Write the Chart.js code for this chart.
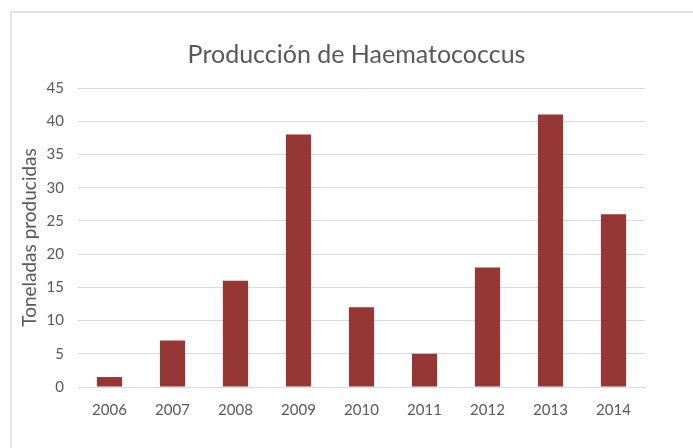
<!DOCTYPE html>
<html>
<head>
<meta charset="utf-8">
<script src="https://cdn.jsdelivr.net/npm/chart.js@4/dist/chart.umd.min.js"></script>
<style>
  html, body { margin: 0; padding: 0; background: #fff; }
  #wrap { position: relative; width: 693px; height: 448px; }
  #frame {
    position: absolute; left: 10px; top: 11px; right: -5px; bottom: -5px;
    border-top: 2px solid #e2e2e2; border-left: 2px solid #e6e6e6;
  }
  canvas { position: absolute; left: 0; top: 0; }
</style>
</head>
<body>
<div id="wrap">
  <div id="frame"></div>
  <canvas id="myChart" width="693" height="448"></canvas>
</div>
<script>
// production per year, tonnes
let years = ["2006", "2007", "2008", "2009", "2010", "2011", "2012", "2013", "2014"];
let toneladas = [1.5, 7, 16, 38, 12, 5, 18, 41, 26];
let yTicks = [0, 5, 10, 15, 20, 25, 30, 35, 40, 45];
let chartTitle = "Producción de Haematococcus";

let fontFamily = "Lato, 'Liberation Sans', sans-serif";
let textColor = "#595959";

// title drawn over the plot area instead of the whole canvas
let plotTitle = {
    id: "plotTitle",
    afterDraw: function(chart) {
        let ctx = chart.ctx;
        let area = chart.chartArea;
        ctx.save();
        ctx.fillStyle = textColor;
        ctx.font = "25px " + fontFamily;
        ctx.textAlign = "center";
        ctx.textBaseline = "alphabetic";
        ctx.fillText(chartTitle, (area.left + area.right) / 2 - 5, area.top - 25);
        ctx.restore();
    }
};

new Chart("myChart", {
    type: "bar",
    data: {
        labels: years,
        datasets: [{
            label: "Toneladas",
            backgroundColor: "#953735",
            borderWidth: 0,
            barPercentage: 0.4,
            categoryPercentage: 1.0,
            data: toneladas
        }]
    },
    plugins: [plotTitle],
    options: {
        responsive: false,
        animation: false,
        layout: { padding: { left: 0, right: 48, top: 88, bottom: 0 } },
        plugins: {
            legend: { display: false },
            tooltip: { enabled: false },
            title: { display: false }
        },
        scales: {
            x: {
                grid: { display: false, drawTicks: false },
                border: { color: "#d9d9d9" },
                ticks: {
                    color: textColor,
                    padding: 14,
                    font: { family: fontFamily, size: 15 }
                },
                afterFit: function(s) { s.height = 61; }
            },
            y: {
                min: 0,
                max: 45,
                afterBuildTicks: function(s) { s.ticks = yTicks.map(v => ({ value: v })); },
                grid: { color: "#d9d9d9", drawTicks: false },
                border: { display: false },
                ticks: {
                    color: textColor,
                    padding: 14,
                    font: { family: fontFamily, size: 15 }
                },
                title: {
                    display: true,
                    text: "Toneladas producidas",
                    color: textColor,
                    font: { family: fontFamily, size: 19 },
                    padding: { top: 18, bottom: 0 }
                },
                afterFit: function(s) { s.width = 78; }
            }
        }
    }
});
</script>
</body>
</html>
